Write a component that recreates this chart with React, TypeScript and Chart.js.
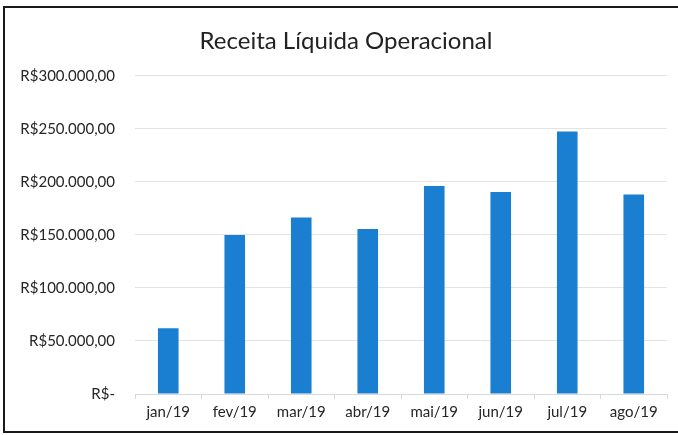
import React, { useEffect, useRef } from "react";
import { Chart, registerables } from "chart.js";

Chart.register(...registerables);

const categories = ["jan/19", "fev/19", "mar/19", "abr/19", "mai/19", "jun/19", "jul/19", "ago/19"];
const receita = [62000, 150000, 166500, 155500, 196000, 190500, 247500, 188000];
const titleText = "Receita Líquida Operacional";

function formatBRL(v: number): string {
  if (v === 0) return "R$-";
  const fixed = Math.abs(v).toFixed(2);
  const [intPart, dec] = fixed.split(".");
  const withDots = intPart.replace(/\B(?=(\d{3})+(?!\d))/g, ".");
  return "R$" + withDots + "," + dec;
}

const shiftTitle = {
  id: "shiftTitle",
  afterLayout(chart: any) {
    if (chart.titleBlock) {
      chart.titleBlock.left = 25;
    }
  },
};

export default function App() {
  const canvasRef = useRef<HTMLCanvasElement | null>(null);

  useEffect(() => {
    if (!canvasRef.current) return;
    const chart = new Chart(canvasRef.current, {
      type: "bar",
      data: {
        labels: categories,
        datasets: [
          {
            label: titleText,
            data: receita,
            backgroundColor: "#1b7fd1",
            borderWidth: 0,
            barPercentage: 0.31,
            categoryPercentage: 1,
          },
        ],
      },
      plugins: [shiftTitle],
      options: {
        animation: false,
        responsive: false,
        maintainAspectRatio: false,
        layout: { padding: { left: 0, right: 11, top: 0, bottom: 15 } },
        plugins: {
          legend: { display: false },
          tooltip: { enabled: false },
          title: {
            display: true,
            text: titleText,
            color: "#222222",
            font: { family: "Lato, 'Open Sans', sans-serif", size: 24, weight: "normal" },
            padding: { top: 27, bottom: 20 },
          },
        },
        scales: {
          x: {
            grid: {
              display: true,
              drawOnChartArea: false,
              drawTicks: true,
              tickLength: 5,
              color: "#d9d9d9",
              offset: true,
            },
            border: { display: true, color: "#d9d9d9", width: 1 },
            ticks: {
              color: "#262626",
              padding: 4,
              font: { family: "Lato, 'Open Sans', sans-serif", size: 15 },
            },
            afterFit: (s: any) => {
              s.height = 26;
            },
          },
          y: {
            min: 0,
            max: 300000,
            grid: { color: "#e3e3e3", drawTicks: false },
            border: { display: false },
            ticks: {
              stepSize: 50000,
              padding: 20,
              color: "#262626",
              font: { family: "Lato, 'Open Sans', sans-serif", size: 15 },
              callback: (v: any) => formatBRL(Number(v)),
            },
            afterFit: (s: any) => {
              s.width = 135;
            },
          },
        },
      },
    });
    return () => chart.destroy();
  }, []);

  return (
    <div style={{ position: "absolute", left: 0, top: 0, width: 678, height: 435, background: "#ffffff" }}>
      <canvas ref={canvasRef} width={678} height={435} style={{ display: "block" }} />
      <div
        style={{
          position: "absolute",
          left: 3,
          top: 6,
          width: 675,
          height: 427,
          borderLeft: "2px solid #1a1a1a",
          borderTop: "2px solid #1a1a1a",
          borderBottom: "2px solid #1a1a1a",
          boxSizing: "border-box",
          pointerEvents: "none",
        }}
      />
    </div>
  );
}
